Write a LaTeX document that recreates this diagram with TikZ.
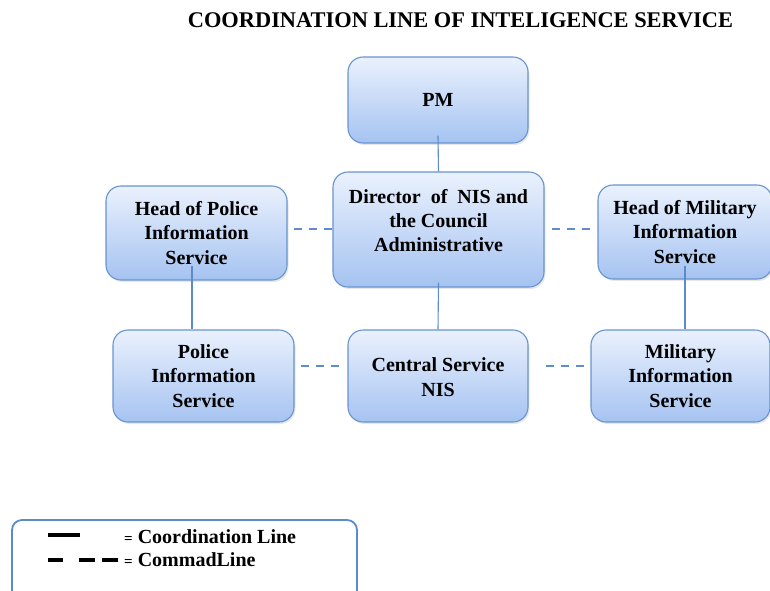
\documentclass[tikz,border=0pt]{standalone}
\usepackage{fontspec}
\setmainfont{Liberation Serif}
\usetikzlibrary{shadows}
\definecolor{boxtop}{HTML}{EAF1FD}
\definecolor{boxbot}{HTML}{A5C3F1}
\definecolor{boxline}{HTML}{6893CF}
\definecolor{linkcol}{HTML}{5C8BCB}
\definecolor{dashcol}{HTML}{5F8CCB}
\tikzset{
  orgbox/.style={draw=boxline, line width=1.1pt, rounded corners=15pt,
    top color=boxtop, bottom color=boxbot,
    drop shadow={opacity=0.18, shadow xshift=1.5pt, shadow yshift=-2pt},
    inner sep=0pt},
  boxtext/.style={align=center, font=\fontsize{20}{24.3}\selectfont\bfseries},
  coord/.style={draw=linkcol, line width=1.1pt},
  cmdline/.style={draw=dashcol, line width=1.6pt, dash pattern=on 8pt off 7pt},
  legtext/.style={anchor=base west, inner sep=0pt, font=\fontsize{20}{22}\selectfont\bfseries},
}
\begin{document}
\begin{tikzpicture}[x=1pt, y=-1pt]
\useasboundingbox (0,0) rectangle (770,590);

% title
\node[font=\fontsize{22.4}{26}\selectfont\bfseries] (title) at (460.5,20)
  {COORDINATION LINE OF INTELIGENCE SERVICE};

% boxes
\node[orgbox, minimum width=180pt, minimum height=86pt] (pm) at (438,100) {};
\node[orgbox, minimum width=211pt, minimum height=115pt] (dir) at (438.5,229.5) {};
\node[orgbox, minimum width=181pt, minimum height=94pt] (hp) at (196.5,233) {};
\node[orgbox, minimum width=174pt, minimum height=94pt] (hm) at (685,232) {};
\node[orgbox, minimum width=181pt, minimum height=92pt] (pi) at (203.5,376) {};
\node[orgbox, minimum width=180pt, minimum height=92pt] (cs) at (438,376) {};
\node[orgbox, minimum width=179pt, minimum height=92pt] (mi) at (680.5,376) {};

% box texts
\node[boxtext] (pmt) at (pm.center) {PM};
\node[boxtext] (dirt) at ([yshift=9pt]dir.center) {Director\ \ of\ \ NIS and\\the Council\\Administrative};
\node[boxtext] (hpt) at (hp.center) {Head of Police\\Information\\Service};
\node[boxtext] (hmt) at (hm.center) {Head of Military\\Information\\Service};
\node[boxtext] (pit) at (pi.center) {Police\\Information\\Service};
\node[boxtext] (cst) at ([yshift=-1pt]cs.center) {Central Service\\NIS};
\node[boxtext] (mit) at (mi.center) {Military\\Information\\Service};

% coordination lines
\draw[coord] ([yshift=8pt]pm.south) -- (dir.north);
\draw[coord] ([yshift=5pt]dir.south) -- (cs.north);
\draw[coord] ([yshift=15pt]hp.south -| pi.north) ++(-11.5pt,0) coordinate (hpa) -- (hpa |- pi.north);
\draw[draw=linkcol, line width=1.8pt] ([yshift=14pt]hm.south) -- (hm.south |- mi.north);

% command lines
\draw[cmdline] ([xshift=6pt]hp.east |- 0,229) coordinate (ha) -- (ha -| dir.west);
\draw[cmdline] ([xshift=7pt]dir.east |- 0,229) coordinate (da) -- ([xshift=-1pt]da -| hm.west);
\draw[cmdline] ([xshift=6pt]pi.east |- 0,366) coordinate (pa) -- ([xshift=-3pt]pa -| cs.west);
\draw[cmdline] ([xshift=17pt]cs.east |- 0,366) coordinate (ca) -- ([xshift=-3pt]ca -| mi.west);

% legend
\draw[draw=linkcol, line width=1.8pt, rounded corners=10pt] (12,520) -- (12,610) -- (357,610) -- (357,520) -- cycle;
\coordinate (ls1) at (48,535);
\coordinate (le1) at (80,535);
\coordinate (ls2) at (48,560);
\coordinate (le2) at (118,560);
\draw[black, line width=3.2pt] (ls1) -- (le1);
\draw[black, line width=3.2pt, dash pattern=on 15pt off 16pt on 16pt off 7pt on 16pt] (ls2) -- (le2);
\node[legtext] (lt1) at (124,543)
  {{\fontsize{15}{16}\selectfont =} Coordination Line};
\node[legtext] (lt2) at (124,566)
  {{\fontsize{15}{16}\selectfont =} CommadLine};
\end{tikzpicture}
\end{document}
